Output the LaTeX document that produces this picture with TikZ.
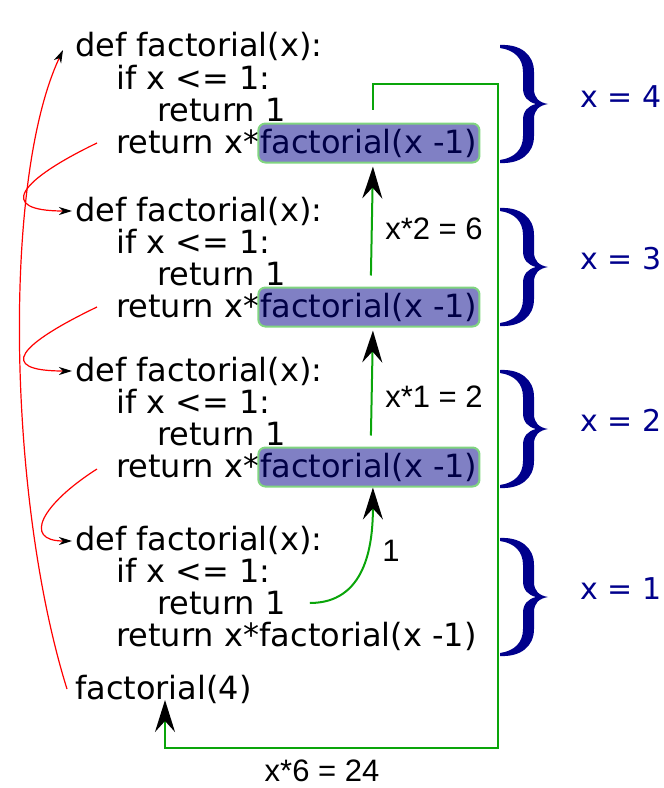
\documentclass[tikz,border=0pt]{standalone}
\usepackage{fontspec}
\setmainfont{DejaVu Sans}
\newfontfamily\labfont{Liberation Sans}
\usetikzlibrary{arrows.meta}
\definecolor{hlfill}{RGB}{128,128,196}
\definecolor{hldraw}{RGB}{128,212,128}
\definecolor{hltext}{RGB}{0,0,70}
\definecolor{gline}{RGB}{10,165,10}
\definecolor{navyb}{RGB}{0,0,140}
\begin{document}
\begin{tikzpicture}[x=1bp,y=-1bp,
  code/.style={anchor=base west, inner sep=0pt, font=\fontsize{32bp}{32bp}\selectfont},
  hl/.style={code, fill=hlfill, draw=hldraw, line width=2bp, text=hltext,
    rounded corners=7bp, inner xsep=2bp, inner ysep=5.5bp, text height=24bp, text depth=4bp},
  lab/.style={inner sep=0pt, font=\labfont\fontsize{31bp}{31bp}\selectfont},
  xlab/.style={inner sep=0pt, text=navyb, font=\fontsize{30bp}{30bp}\selectfont},
  gconn/.style={draw=gline, line width=2bp},
  bigtip/.style={-{Stealth[color=black,length=32bp,width=20bp,inset=11bp]}},
  rconn/.style={draw=red, line width=1.2bp, -{Stealth[color=black,length=13bp,width=8bp,inset=4bp]}},
  bracefill/.style={fill=navyb}
]
\useasboundingbox (0,0) rectangle (664,788);

% block 1
\node[code] (d1) at (75,57) {def factorial(x):};
\node[code] (if1) at (116,89) {if x <= 1:};
\node[code] (ret1) at (157,121) {return 1};
\node[code] (r1) at (116,153) {return x*};
\node[hl, xshift=-2bp] (f1) at (r1.base east) {factorial(x -1)};
% block 2
\node[code] (d2) at (75,221) {def factorial(x):};
\node[code] (if2) at (116,253) {if x <= 1:};
\node[code] (ret2) at (157,285) {return 1};
\node[code] (r2) at (116,317) {return x*};
\node[hl, xshift=-2bp] (f2) at (r2.base east) {factorial(x -1)};
% block 3
\node[code] (d3) at (75,381) {def factorial(x):};
\node[code] (if3) at (116,413) {if x <= 1:};
\node[code] (ret3) at (157,445) {return 1};
\node[code] (r3) at (116,477) {return x*};
\node[hl, xshift=-2bp] (f3) at (r3.base east) {factorial(x -1)};
% block 4
\node[code] (d4) at (75,550) {def factorial(x):};
\node[code] (if4) at (116,582) {if x <= 1:};
\node[code] (ret4) at (157,614) {return 1};
\node[code] (r4) at (116,646) {return x*};
\node[code] (f4) at (r4.base east) {factorial(x -1)};
% call
\node[code] (call) at (75,699) {factorial(4)};

% green return path
\coordinate (tr) at (498,84);
\coordinate (br) at (498,748);
\draw[gconn, bigtip] ([xshift=4bp,yshift=13bp]f1.north) |- (tr) -- (br) -| ([xshift=90bp,yshift=-1bp]call.base west);
\draw[gconn, bigtip] ([xshift=2bp,yshift=11bp]f2.north) -- ([xshift=4bp,yshift=-3bp]f1.south);
\draw[gconn, bigtip] ([xshift=2bp,yshift=11bp]f3.north) -- ([xshift=4bp,yshift=-3bp]f2.south);
\draw[gconn, bigtip] ([xshift=24bp,yshift=11bp]ret4.base east) .. controls +(55,0) and +(0,60) .. ([xshift=4bp]f3.south);

% labels
\node[lab] (l26) at (434,229) {x*2 = 6};
\node[lab] (l12) at (434,397) {x*1 = 2};
\node[lab] (l1) at (391,551) {1};
\node[lab] (l24) at (322,771) {x*6 = 24};

% red calls
\draw[rconn] ([xshift=-19bp,yshift=10bp]r1.base west) .. controls +(-77,37) and +(-77,0) .. ([xshift=-3bp,yshift=10bp]d2.base west);
\draw[rconn] ([xshift=-19bp,yshift=10bp]r2.base west) .. controls +(-77,37) and +(-77,0) .. ([xshift=-3bp,yshift=10bp]d3.base west);
\draw[rconn] ([xshift=-19bp,yshift=8bp]r3.base west) .. controls +(-55,35) and +(-50,0) .. ([xshift=-3bp,yshift=9bp]d4.base west);
\draw[rconn] ([xshift=-8bp,yshift=10bp]call.base west) .. controls +(-59,-189) and +(-61,130) .. ([xshift=-12bp,yshift=7bp]d1.base west);

% braces
\foreach \t in {45,208,370,538}{
  \fill[bracefill, shift={(500,\t)}]
    (0,0) .. controls (20,-1) and (34,9) .. (34,27) -- (34,44)
    .. controls (34,53) and (39,57.5) .. (48,59)
    .. controls (39,60.5) and (34,65) .. (34,74) -- (34,91)
    .. controls (34,109) and (20,119) .. (0,118) -- (0,115)
    .. controls (14,113) and (23,105) .. (23,91) -- (23,75)
    .. controls (23,66) and (28,61) .. (36,59)
    .. controls (28,57) and (23,52) .. (23,43) -- (23,27)
    .. controls (23,13) and (14,5) .. (0,3) -- cycle;
}
\node[xlab] (x4) at (621,97) {x = 4};
\node[xlab] (x3) at (621,259) {x = 3};
\node[xlab] (x2) at (621,420) {x = 2};
\node[xlab] (x1) at (621,589) {x = 1};
\end{tikzpicture}
\end{document}
